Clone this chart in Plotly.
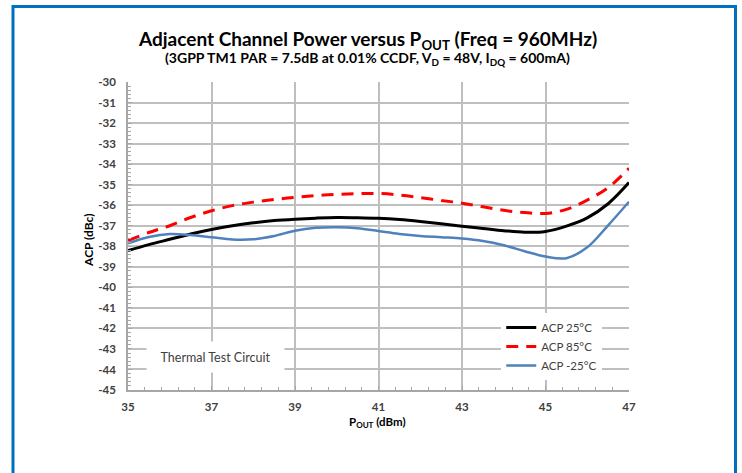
import plotly.graph_objects as go

# Output power sweep (dBm)
pout = [35, 35.5, 36, 36.5, 37, 37.5, 38, 38.5, 39, 39.5, 40, 40.5, 41,
        41.5, 42, 42.5, 43, 43.5, 44, 44.5, 45, 45.5, 46, 46.5, 47]

# Adjacent channel power (dBc) at each case temperature
acp_25 = [-38.21, -37.92, -37.66, -37.40, -37.18, -37.00, -36.86, -36.75, -36.68,
          -36.63, -36.60, -36.61, -36.64, -36.70, -36.79, -36.90, -37.02, -37.13,
          -37.24, -37.32, -37.28, -37.02, -36.62, -35.93, -34.90]
acp_85 = [-37.72, -37.33, -37.00, -36.60, -36.27, -36.02, -35.85, -35.72, -35.62,
          -35.53, -35.47, -35.44, -35.43, -35.50, -35.63, -35.77, -35.90, -36.08,
          -36.25, -36.36, -36.40, -36.20, -35.75, -35.15, -34.20]
acp_m25 = [-37.86, -37.55, -37.40, -37.45, -37.56, -37.67, -37.66, -37.50, -37.24,
           -37.10, -37.07, -37.12, -37.26, -37.40, -37.50, -37.56, -37.62, -37.74,
           -37.95, -38.24, -38.50, -38.58, -38.05, -36.98, -35.83]

series_names = ["ACP 25°C", "ACP 85°C", "ACP -25°C"]
x_ticks = [35, 37, 39, 41, 43, 45, 47]
y_ticks = list(range(-45, -29))

FONT = "Lato"
TXT = "#404040"
GRID = "#BFBFBF"

fig = go.Figure()
fig.add_trace(go.Scatter(x=pout, y=acp_25, name=series_names[0], mode="lines",
                         line=dict(color="#000000", width=3, shape="spline")))
fig.add_trace(go.Scatter(x=pout, y=acp_85, name=series_names[1], mode="lines",
                         line=dict(color="#FF0000", width=3, dash="12px,8px", shape="spline")))
fig.add_trace(go.Scatter(x=pout, y=acp_m25, name=series_names[2], mode="lines",
                         line=dict(color="#4F81BD", width=2.5, shape="spline")))

fig.update_layout(
    width=742, height=473,
    margin=dict(l=128, r=113, t=82, b=83),
    paper_bgcolor="white", plot_bgcolor="white",
    font=dict(family=FONT, color=TXT),
    showlegend=True,
    legend=dict(x=0.745, y=0.25, xanchor="left", yanchor="top",
                bgcolor="white", borderwidth=0,
                font=dict(size=11.5, color=TXT, family=FONT)),
)

fig.update_xaxes(
    range=[35, 47], tickvals=x_ticks, ticktext=["<b>%d</b>" % v for v in x_ticks],
    showgrid=True, gridcolor=GRID, gridwidth=1.5,
    showline=True, linecolor="#A6A6A6", linewidth=1.5,
    ticks="inside", ticklen=4, tickcolor="#A6A6A6",
    minor=dict(dtick=0.4, tick0=35, ticks="inside", ticklen=3, tickcolor="#A6A6A6", showgrid=False),
    tickfont=dict(size=11.5, color=TXT, family=FONT),
    ticklabelstandoff=5,
    zeroline=False, fixedrange=True,
)
fig.update_yaxes(
    range=[-45, -30], tickvals=y_ticks, ticktext=["<b>%d</b>" % v for v in y_ticks],
    showgrid=True, gridcolor=GRID, gridwidth=1.5,
    showline=True, linecolor="#A6A6A6", linewidth=1.5,
    ticks="inside", ticklen=4, tickcolor="#A6A6A6",
    minor=dict(dtick=0.2, tick0=-45, ticks="inside", ticklen=3, tickcolor="#A6A6A6", showgrid=False),
    tickfont=dict(size=11.5, color=TXT, family=FONT),
    ticklabelstandoff=8,
    zeroline=False, fixedrange=True,
)

# Titles
fig.add_annotation(text="<b>Adjacent Channel Power versus P<sub>OUT</sub> (Freq = 960MHz)</b>",
                   xref="paper", yref="paper", x=0.479, y=1.136, showarrow=False,
                   xanchor="center", yanchor="middle",
                   font=dict(size=19, color="#000000", family=FONT))
fig.add_annotation(text="<b>(3GPP TM1 PAR = 7.5dB at 0.01% CCDF, V<sub>D</sub> = 48V, I<sub>DQ</sub> = 600mA)</b>",
                   xref="paper", yref="paper", x=0.479, y=1.075, showarrow=False,
                   xanchor="center", yanchor="middle",
                   font=dict(size=14, color="#000000", family=FONT))

# Axis titles
fig.add_annotation(text="<b>ACP (dBc)</b>", xref="paper", yref="paper",
                   x=-0.08, y=0.487, showarrow=False, textangle=-90,
                   xanchor="center", yanchor="middle",
                   font=dict(size=12, color="#000000", family=FONT))
fig.add_annotation(text="<b>P<sub>OUT</sub> (dBm)</b>", xref="paper", yref="paper",
                   x=0.499, y=-0.107, showarrow=False,
                   xanchor="center", yanchor="middle",
                   font=dict(size=11.5, color="#000000", family=FONT))

# Circuit label
fig.add_annotation(text="Thermal Test Circuit", xref="paper", yref="paper",
                   x=0.1737, y=0.107, showarrow=False, bgcolor="white",
                   width=135, height=28, xanchor="center", yanchor="middle",
                   font=dict(size=12.5, color=TXT, family=FONT))

# Blue frame around the figure
fig.add_shape(type="rect", xref="paper", yref="paper",
              x0=(13 - 128) / 501, x1=(735.5 - 128) / 501,
              y0=(390 - 490) / 308, y1=(390 - 6.5) / 308,
              line=dict(color="#0070C0", width=3), fillcolor="rgba(0,0,0,0)",
              layer="above")

fig.write_html("out.html")
